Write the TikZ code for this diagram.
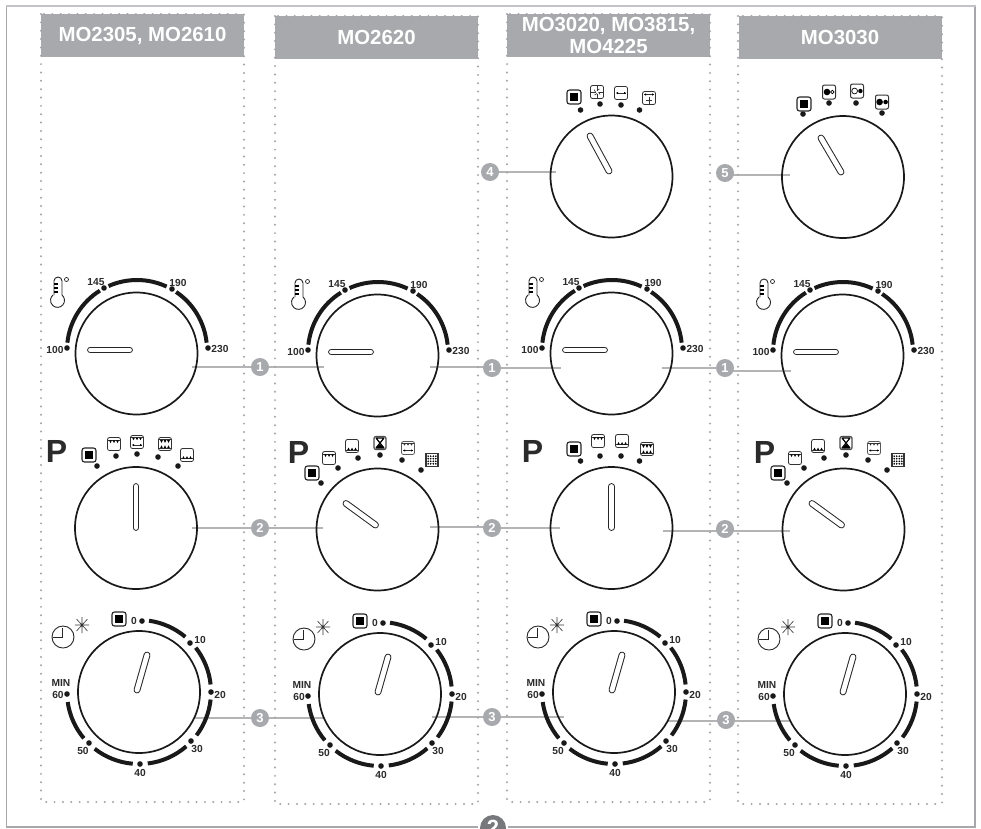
\documentclass[tikz,border=0pt]{standalone}
\usepackage{fontspec}
\setmainfont{Liberation Sans}
\pgfdeclarelayer{bg}
\pgfsetlayers{bg,main}
\definecolor{hdr}{HTML}{A7A9AC}
\definecolor{dotc}{HTML}{A4A4A8}
\definecolor{frm}{HTML}{A8A8AC}
\definecolor{frmt}{HTML}{C4C2C8}
\definecolor{txt}{HTML}{2B2B2B}
\definecolor{bub2}{HTML}{77787B}
\definecolor{cline}{HTML}{B4B4B6}
\tikzset{
  knob/.style={circle,draw=black!90,line width=1.7,minimum size=122,inner sep=0},
  hdrbox/.style={fill=hdr,draw=none,minimum width=203,minimum height=43,inner sep=0,text=white,align=center,
     font=\fontsize{20.4}{22}\selectfont\bfseries},
  dotbox/.style={draw=dotc,line width=2.2,line cap=round,dash pattern=on 0pt off 8.35pt},
  lbl/.style={font=\fontsize{10.2}{12}\selectfont\bfseries,text=txt,inner sep=0},
  bigp/.style={font=\fontsize{32}{32}\selectfont\bfseries,text=txt,inner sep=0},
  bubble/.style={circle,fill=hdr,text=white,minimum size=18,inner sep=0,font=\fontsize{13}{13}\selectfont\bfseries},
  conn/.style={draw=cline,line width=1.3},
  scale arc/.style={line width=4,draw=black!90},
  ico/.style={draw=black!80,line width=.8,rounded corners=2},
  thin ico/.style={draw=black!80,line width=.6},
  stopico/.pic={\draw[draw=black!85,line width=1.1,rounded corners=2.5,fill=white] (-7,-7) rectangle (7,7);
     \fill[black] (-4.2,-4.2) rectangle (4.2,4.2);},
  topico/.pic={\draw[ico] (-6.5,-6.5) rectangle (6.5,6.5);
     \draw[thin ico,line width=1] (-6,-3.8) -- (6,-3.8);
     \foreach \u in {-3.5,0,3.5} \fill[black] (\u-1.3,-3.6) -- (\u+1.3,-3.6) -- (\u,-1) -- cycle;},
  botico/.pic={\draw[ico] (-6.5,-6.5) rectangle (6.5,6.5);
     \draw[thin ico,line width=1] (-6,3.8) -- (6,3.8);
     \foreach \u in {-3.5,0,3.5} \fill[black] (\u-1.3,3.6) -- (\u+1.3,3.6) -- (\u,1) -- cycle;},
  topbotico/.pic={\draw[ico] (-6.5,-6.5) rectangle (6.5,6.5);
     \foreach \u in {-3.5,0,3.5} {\fill[black] (\u-1.3,-3.8) -- (\u+1.3,-3.8) -- (\u,-1.2) -- cycle;
        \fill[black] (\u-1.3,4) -- (\u+1.3,4) -- (\u,1.4) -- cycle;}
     \draw[thin ico,line width=.9] (-6,-4.2) -- (6,-4.2) (-6,4.3) -- (6,4.3);},
  topfanico/.pic={\draw[ico] (-6.5,-6.5) rectangle (6.5,6.5);
     \draw[thin ico,line width=.9] (-6,-4.2) -- (6,-4.2);
     \foreach \u in {-3.5,0,3.5} \fill[black] (\u-1.2,-4) -- (\u+1.2,-4) -- (\u,-1.8) -- cycle;
     \draw[thin ico] (-4.5,3) -- (4.5,3);
     \fill[black] (-5,3) -- (-3,1.8) -- (-3,4.2) -- cycle (5,3) -- (3,1.8) -- (3,4.2) -- cycle;},
  fanonlyico/.pic={\draw[ico] (-6.5,-6.5) rectangle (6.5,6.5);
     \draw[thin ico] (-4.5,0) -- (4.5,0);
     \fill[black] (-5,0) -- (-3,-1.2) -- (-3,1.2) -- cycle (5,0) -- (3,-1.2) -- (3,1.2) -- cycle;},
  bladeico/.pic={\draw[ico] (-6.5,-6.5) rectangle (6.5,6.5);
     \draw[thin ico] (0,-6) -- (0,-1.5) (0,1.5) -- (0,6) (-6,0) -- (-1.5,0) (1.5,0) -- (6,0);
     \draw[thin ico] (0,-1.5) -- (2.5,-3) (0,1.5) -- (-2.5,3) (-1.5,0) -- (-3,-2.5) (1.5,0) -- (3,2.5);},
  bladefanico/.pic={\draw[ico] (-6.5,-6.5) rectangle (6.5,6.5);
     \draw[thin ico] (-4.5,-3.5) -- (4.5,-3.5);
     \fill[black] (-5,-3.5) -- (-3,-4.7) -- (-3,-2.3) -- cycle (5,-3.5) -- (3,-4.7) -- (3,-2.3) -- cycle;
     \draw[thin ico] (0,-1) -- (0,5.5) (-3,2) -- (3,2);},
  hourico/.pic={\draw[draw=black!70,line width=1.3,rounded corners=2] (-6,-6.5) rectangle (6,6.5);
     \draw[black,line width=1.2] (-4,-5) -- (4,5) (4,-5) -- (-4,5) (-4,-5) -- (4,-5) (-4,5) -- (4,5);
     \fill[black] (-3,4.8) -- (3,4.8) -- (0,1) -- cycle;},
  ovenbotico/.pic={\draw[ico] (-6.5,-6.5) rectangle (6.5,6.5);
     \draw[thin ico,line width=1] (-6,4) -- (6,4);
     \foreach \u in {-3.5,0,3.5} \fill[black] (\u-1.3,4) -- (\u+1.3,4) -- (\u,1.6) -- cycle;},
  dotfanico/.pic={\draw[ico,draw=black!65] (-6.5,-6.5) rectangle (6.5,6.5);
     \draw[thin ico,line width=.9] (-6,-4.2) -- (6,-4.2);
     \foreach \u in {-3.5,0,3.5} \fill[black!80] (\u-.9,-4) -- (\u+.9,-4) -- (\u,-2.3) -- cycle;
     \draw[thin ico] (-4.5,2.5) -- (4.5,2.5);
     \fill[black] (-5,2.5) -- (-3,1.4) -- (-3,3.6) -- cycle (5,2.5) -- (3,1.4) -- (3,3.6) -- cycle;},
  grillico/.pic={\draw[draw=black!80,line width=1.2] (-6,-6.5) rectangle (6,6.5);
     \foreach \u in {-3.8,-1.3,1.3,3.8} \foreach \v in {-3.8,-1.3,1.3,3.8} \fill[black] (\u,\v) circle (.95);},
  halfAico/.pic={\draw[ico,line width=1] (-6.5,-7) rectangle (6.5,7);
     \fill[black] (-2,0) circle (3.3); \draw[black,line width=.7] (3.4,0) circle (1.7);},
  halfBico/.pic={\draw[ico,line width=1] (-6.5,-7) rectangle (6.5,7);
     \draw[black,line width=.7] (-2.4,0) circle (2.9); \fill[black] (3.4,0) circle (2.2);},
  bothico/.pic={\draw[ico,line width=1] (-6.5,-7) rectangle (6.5,7);
     \fill[black] (-2.4,0) circle (3.3); \fill[black] (3.6,0) circle (2.3);},
}
\newcommand\tdot[1]{\fill[black!90] (#1) circle (2.8);}
\newcommand\gptr[2]{\draw[black!85,line width=6.8,line cap=round] (#1) -- (#2);
  \draw[white,line width=4.8,line cap=round] (#1) -- (#2);}
% thermostat dial
\newcommand\thermodial[3]{\begin{scope}[shift={(#2,#3)}]
  \node[knob] (#1) at (136.5,353.5) {};
  \gptr{90.5,350}{129.5,350}
  \draw[scale arc] ([shift={(137,350)}]-174:70) arc[start angle=-174,end angle=-122,radius=70];
  \draw[scale arc] ([shift={(137,350)}]-114:70) arc[start angle=-114,end angle=-65,radius=70];
  \draw[scale arc] ([shift={(137,350)}]-56:70) arc[start angle=-56,end angle=-6,radius=70];
  \tdot{67,348}\tdot{104,288}\tdot{172,289}\tdot{208,348}
  \node[lbl] (#1a) at (55,350) {100};
  \node[lbl] (#1b) at (96,282) {145};
  \node[lbl] (#1c) at (178,283) {190};
  \node[lbl] (#1d) at (220,349) {230};
  \draw[black!85,line width=.9] (54,295) -- (54,281) arc[start angle=180,end angle=360,radius=4] -- (62,295)
     arc[start angle=-50,end angle=230,radius=7];
  \draw[black,line width=1.1] (54,284) -- (58,284) (54,288) -- (58,288) (54,292) -- (58,292);
  \draw[black!85,line width=.7] (66.5,279.5) circle (2);
\end{scope}}
% timer dial
\newcommand\timerdial[3]{\begin{scope}[shift={(#2,#3)}]
  \node[knob] (#1) at (139,692) {};
  \gptr{137,690}{147,655}
  \foreach \p/\q in {-82/-50,-38/-6,6/37,49/83,95/128,140/172}
     \draw[scale arc] ([shift={(139,692)}]\p:72) arc[start angle=\p,end angle=\q,radius=72];
  \tdot{142,621}\tdot{190,643}\tdot{211,692}\tdot{191,741}\tdot{140,764}\tdot{89,743}\tdot{67,694}
  \node[lbl] (#1a) at (134,621) {0};
  \node[lbl] (#1b) at (200,640) {10};
  \node[lbl] (#1c) at (220,695) {20};
  \node[lbl] (#1d) at (197,749) {30};
  \node[lbl] (#1e) at (140,773) {40};
  \node[lbl] (#1f) at (83,751) {50};
  \node[lbl] (#1g) at (58,695) {60};
  \node[lbl] (#1h) at (61,683) {MIN};
  \pic at (119,619) {stopico};
  \draw[black!85,line width=.9] (63,637) circle (11);
  \draw[black!85,line width=.9] (62.5,628) -- (62.5,637) -- (53,637);
  \draw[black!80,line width=.6] (75,625) -- (89,625) (82,617) -- (82,633) (76.5,619) -- (87.5,631) (87.5,619) -- (76.5,631);
\end{scope}}
\begin{document}
\begin{tikzpicture}[x=1pt,y=-1pt]
\useasboundingbox (0,0) rectangle (981,828);
\begin{pgfonlayer}{bg}
\fill[white] (0,0) rectangle (981,828);
\end{pgfonlayer}
% outer frame
\draw[frm,line width=1.6] (6.5,6) -- (6.5,827) -- (478,827);
\draw[frm,line width=1.6] (508,827) -- (975,827) -- (975,6);
\draw[frmt,line width=2] (5.5,6) -- (976,6);
% column headers
\node[hdrbox] (h1) at (142.5,35.5) {MO2305, MO2610};
\node[hdrbox] (h2) at (376.5,37.5) {MO2620};
\node[hdrbox] (h3) at (608.5,35.5) {MO3020, MO3815,\\[-.5pt]MO4225};
\node[hdrbox] (h4) at (840,37.5) {MO3030};
% dotted columns
\draw[dotbox] (41,14) rectangle (244,802);
\draw[dotbox] (275,16) rectangle (478,804);
\draw[dotbox] (507,14) rectangle (710,802);
\draw[dotbox] (738,16) rectangle (942,804);
% thermostat row
\thermodial{ta}{0}{0}
\thermodial{tb}{241}{2}
\thermodial{tc}{475}{0}
\thermodial{td}{706}{2}
% timer row
\timerdial{ca}{0}{0}
\timerdial{cb}{241}{2}
\timerdial{cc}{475}{0}
\timerdial{cd}{706}{2}
% program dial col 1
\node[knob] (pa) at (136,528) {};
\gptr{136,486.5}{136,527.5}
\node[bigp] (pal) at (56.5,451.5) {P};
\tdot{97,466}\tdot{116,456}\tdot{137,454}\tdot{158,457}\tdot{178,466}
\pic at (89,455) {stopico};
\pic at (114,444) {topico};
\pic at (137,442) {topfanico};
\pic at (165,444) {topbotico};
\pic at (187,455) {botico};
% program dial col 2 and col 4
\foreach \dx/\nk/\np in {0/pb/pbl,466/pd/pdl}{
\begin{scope}[shift={(\dx,0)}]
\node[knob] (\nk) at (377.5,529.5) {};
\gptr{346,503.5}{375.5,525}
\node[bigp] (\np) at (298.5,452.5) {P};
\tdot{321,483}\tdot{338,468}\tdot{358,458}\tdot{380,455}\tdot{402,460}\tdot{421,470}
\pic at (312,473) {stopico};
\pic at (329,458) {topico};
\pic at (352,446) {ovenbotico};
\pic at (380,443) {hourico};
\pic at (408,448) {dotfanico};
\pic at (432,460) {grillico};
\end{scope}}
% program dial col 3
\node[knob] (pc) at (611.5,528) {};
\gptr{611.5,486.5}{611.5,527.5}
\node[bigp] (pcl) at (532.5,451.5) {P};
\tdot{580.5,461}\tdot{600,456}\tdot{621,456}\tdot{639.5,461}
\pic at (574,449) {stopico};
\pic at (598,441) {topico};
\pic at (622,441) {botico};
\pic at (647,449) {topbotico};
% selector dial col 3
\node[knob] (sc) at (611.5,176.5) {};
\gptr{590,136}{609,171}
\tdot{580.5,110}\tdot{600,104}\tdot{621,105}\tdot{639.5,110}
\pic at (574,97) {stopico};
\pic at (597,92) {bladeico};
\pic at (621,93) {fanonlyico};
\pic at (649,98) {bladefanico};
% selector dial col 4
\node[knob] (sd) at (843,177) {};
\gptr{821,138}{841,172}
\tdot{803,114}\tdot{829,103}\tdot{856,103}\tdot{882,113}
\pic at (804,104) {stopico};
\pic at (829,92) {halfAico};
\pic at (857,91) {halfBico};
\pic at (882,102) {bothico};
% callout bubbles
\node[bubble] (b4) at (490,172) {4};
\node[bubble] (b5) at (725,173) {5};
\node[bubble] (b11) at (260,367) {1};
\node[bubble] (b12) at (492,368) {1};
\node[bubble] (b13) at (725,368) {1};
\node[bubble] (b21) at (260,528) {2};
\node[bubble] (b22) at (492,528) {2};
\node[bubble] (b23) at (725,529) {2};
\node[bubble] (b31) at (260,718) {3};
\node[bubble] (b32) at (492,717) {3};
\node[bubble] (b33) at (726,720) {3};
% connector anchors inside the knobs
\coordinate (k4) at (556,172);
\coordinate (k5) at (790,175);
\coordinate (k11) at (192,367);
\coordinate (k12) at (324,367);
\coordinate (k13) at (430,367);
\coordinate (k14) at (561,368);
\coordinate (k15) at (662,368);
\coordinate (k16) at (791,371);
\coordinate (k21) at (192,528);
\coordinate (k22) at (323,528);
\coordinate (k23) at (430,527);
\coordinate (k24) at (560,528);
\coordinate (k25) at (663,531);
\coordinate (k26) at (790,531);
\coordinate (k31) at (195,718);
\coordinate (k32) at (325,718);
\coordinate (k33) at (432,717);
\coordinate (k34) at (564,717);
\coordinate (k35) at (667,721);
\coordinate (k36) at (790,721);
\begin{pgfonlayer}{bg}
\draw[conn] (b4 |- k4) -- (k4);
\draw[conn] (b5 |- k5) -- (k5);
\foreach \b/\l/\r in {b11/k11/k12,b12/k13/k14,b13/k15/k16,b21/k21/k22,b22/k23/k24,b23/k25/k26,b31/k31/k32,b32/k33/k34,b33/k35/k36}
  \draw[conn] (\l) -- (\b |- \l) (\b |- \r) -- (\r);
\end{pgfonlayer}
% page bubble at the bottom edge
\fill[white] (493,828) circle (15);
\node[circle,fill=bub2,text=white,minimum size=26,inner sep=0,font=\fontsize{22}{22}\selectfont\bfseries] (pg) at (493,828) {2};
\end{tikzpicture}
\end{document}
